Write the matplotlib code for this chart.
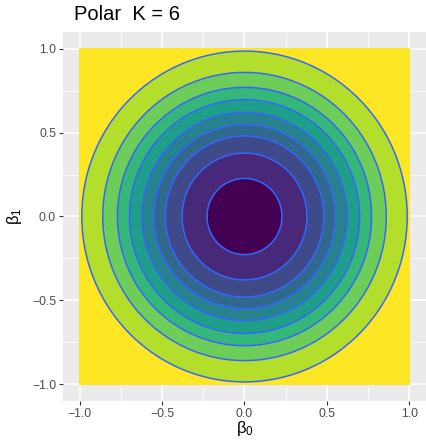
import numpy as np
import matplotlib
matplotlib.use("Agg")
import matplotlib.pyplot as plt

plt.rcParams["font.family"] = ["Liberation Sans", "DejaVu Sans"]
plt.rcParams["mathtext.fontset"] = "custom"
plt.rcParams["mathtext.rm"] = "Liberation Sans"
plt.rcParams["mathtext.it"] = "Liberation Sans"

# Data
title = "Polar  K = 6"
contour_radii = [0.227, 0.378, 0.480, 0.549, 0.621, 0.697, 0.770, 0.859, 0.986]
fill_colors = ["#440154", "#482878", "#3E4A89", "#31688E", "#26828E",
               "#1F9E89", "#35B779", "#6DCD59", "#B4DE2C", "#FDE725"]
tick_values = [-1.0, -0.5, 0.0, 0.5, 1.0]
tick_labels = ["\u22121.0", "\u22120.5", "0.0", "0.5", "1.0"]
minor_values = [-0.75, -0.25, 0.25, 0.75]

fig = plt.figure(figsize=(4.27, 4.41), dpi=100)
ax = fig.add_axes([63/427, 1-401/441, 363/427, 369/441])
ax.set_facecolor("#EBEBEB")

g = np.linspace(-1, 1, 401)
X, Y = np.meshgrid(g, g)
Z = np.sqrt(X**2 + Y**2)

levels = [0.0] + contour_radii + [2.0]
ax.contourf(X, Y, Z, levels=levels, colors=fill_colors, zorder=2)
ax.contour(X, Y, Z, levels=contour_radii, colors="#3366FF", linewidths=1.1, zorder=3)

ax.set_xlim(-1.1, 1.1)
ax.set_ylim(-1.1, 1.1)
ax.set_xticks(tick_values)
ax.set_xticklabels(tick_labels)
ax.set_yticks(tick_values)
ax.set_yticklabels(tick_labels)
ax.set_xticks(minor_values, minor=True)
ax.set_yticks(minor_values, minor=True)
ax.grid(True, which="major", color="white", linewidth=1.1, zorder=0)
ax.grid(True, which="minor", color="white", linewidth=0.55, zorder=0)
ax.set_axisbelow(True)
for s in ax.spines.values():
    s.set_visible(False)
ax.tick_params(which="major", length=3, width=0.8, color="#333333",
               labelsize=8.8, labelcolor="#4D4D4D", pad=2)
ax.tick_params(which="minor", length=0)

fig.text(0.5*(63+426)/427, 1-429/441, r"$\mathregular{\beta_0}$", ha="center", va="center", fontsize=12)
fig.text(14/427, 1-(32+401)/2/441, r"$\mathregular{\beta_1}$", ha="center", va="center", fontsize=12, rotation=90)
fig.text(74/427, 1-15/441, title, ha="left", va="center", fontsize=14.5)

fig.savefig("out.png", dpi=100)
